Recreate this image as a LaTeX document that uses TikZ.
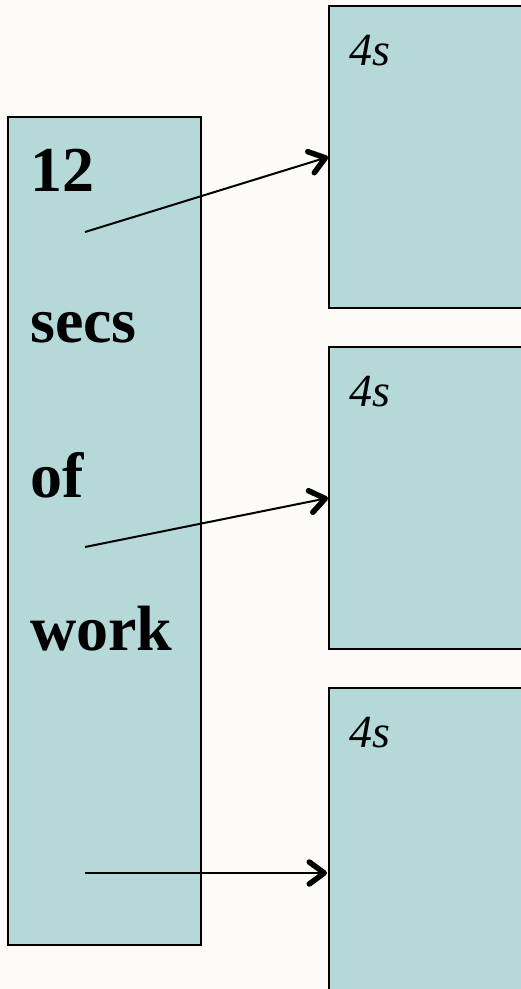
\documentclass[tikz,border=0pt]{standalone}
\usepackage{fontspec}
\setmainfont{Liberation Serif}
\usetikzlibrary{arrows.meta}
\definecolor{paper}{HTML}{FCFBF7}
\definecolor{cell}{HTML}{B5D8D9}
\tikzset{
  box/.style={draw=black, line width=2pt, fill=cell},
  work/.style={anchor=base west, font=\fontsize{64}{64}\selectfont\bfseries, inner sep=0pt},
  part/.style={anchor=base west, font=\fontsize{46}{46}\selectfont\itshape, inner sep=0pt},
  flow/.style={line width=2pt, -{Straight Barb[length=15pt, width=22pt, line width=5.5pt 0, round]}},
}
\begin{document}
\begin{tikzpicture}[x=1pt, y=-1pt]
  \fill[paper] (0,0) rectangle (521,989);
  \useasboundingbox (0,0) rectangle (521,989);
  \clip (0,0) rectangle (521,989);

  % the whole job
  \draw[box] (8,117) rectangle (201,945);
  \node[work] (t1) at (30,191) {12};
  \node[work] (t2) at (30,342) {secs};
  \node[work] (t3) at (30,497) {of};
  \node[work] (t4) at (30,650) {work};

  % three slices of it
  \draw[box] (329,6) rectangle (540,308);
  \draw[box] (329,347) rectangle (540,649);
  \draw[box] (329,688) rectangle (540,1000);
  \node[part] (p1) at (349,65) {4s};
  \node[part] (p2) at (349,406) {4s};
  \node[part] (p3) at (349,747) {4s};

  % hand-off points
  \coordinate (s1) at (85,232);
  \coordinate (s2) at (85,547);
  \coordinate (s3) at (85,873);
  \coordinate (e1) at (328,157);
  \coordinate (e2) at (328,498);
  \coordinate (e3) at (327,873);
  \draw[flow] (s1) -- (e1);
  \draw[flow] (s2) -- (e2);
  \draw[flow] (s3) -- (e3);
\end{tikzpicture}
\end{document}
